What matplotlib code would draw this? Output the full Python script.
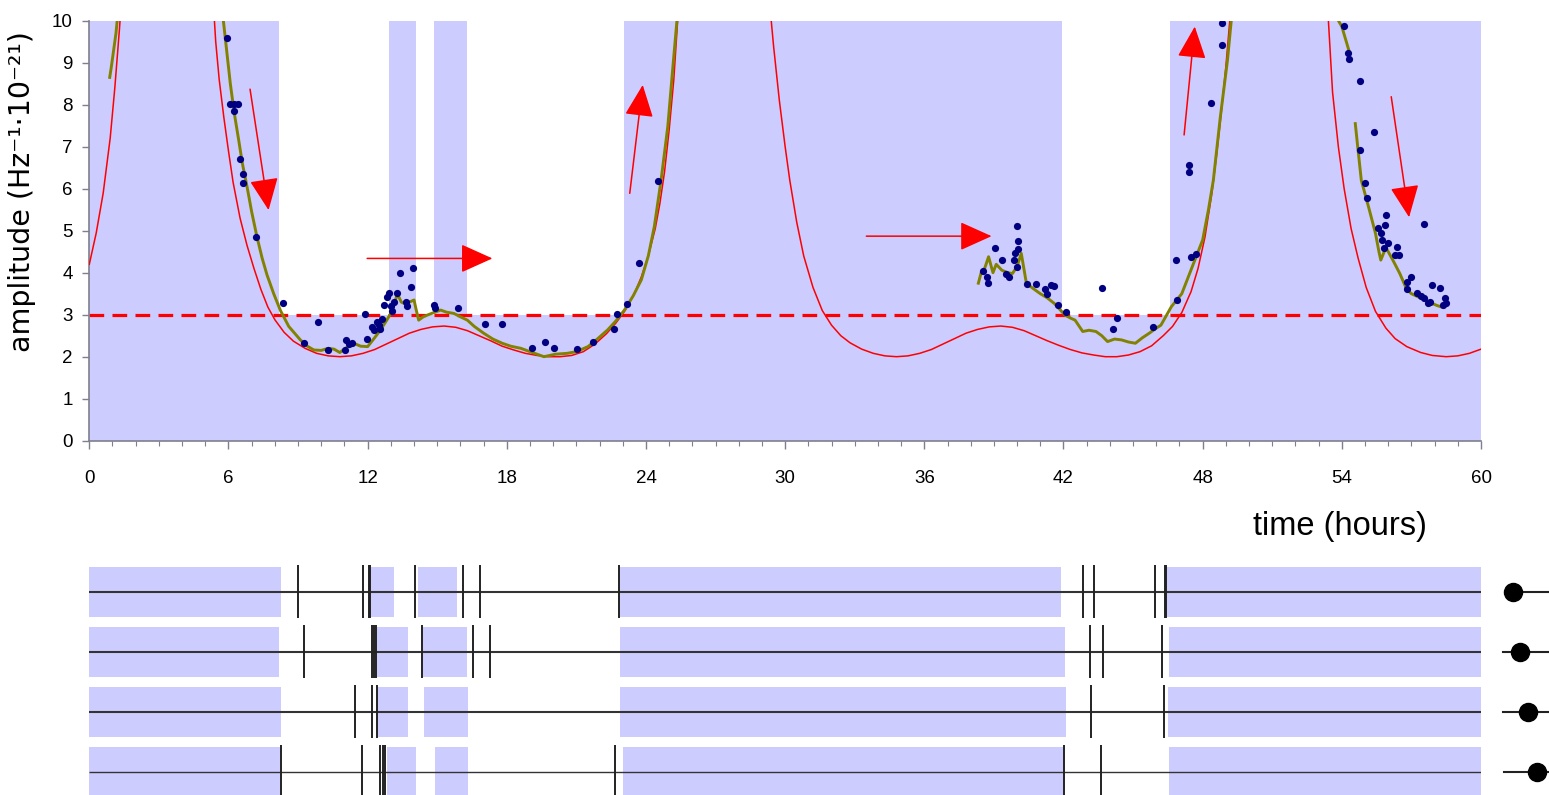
import numpy as np
import matplotlib
matplotlib.use("Agg")
import matplotlib.pyplot as plt
from matplotlib.ticker import MultipleLocator

plt.rcParams['font.family'] = ['Liberation Sans', 'DejaVu Sans']

# ---------------- data ----------------
# shaded observation windows in the top panel (hours)
shade_start = [0.0, 12.9, 14.86, 23.04, 46.6]
shade_end = [8.2, 14.07, 16.3, 41.95, 60.0]
threshold = 3.0

# model amplitude curve (red), separate branches
red1_t = [0.0, 0.3, 0.6, 0.9, 1.1, 1.3, 1.4]
red1_a = [4.2, 4.95, 5.9, 7.2, 8.4, 9.8, 10.6]
red2_t = [5.35, 5.45, 5.6, 5.8, 6.0, 6.2, 6.5, 6.8, 7.1, 7.4, 7.7, 8.0, 8.4, 8.8, 9.3, 9.8,
          10.3, 10.8, 11.3, 11.8, 12.3, 12.8, 13.3, 13.8, 14.3, 14.8, 15.3, 15.8, 16.3, 16.8,
          17.3, 17.8, 18.3, 18.8, 19.3, 19.8, 20.3, 20.8, 21.3, 21.8, 22.3, 22.7, 23.1, 23.5,
          23.8, 24.1, 24.4, 24.6, 24.8, 25.0, 25.2, 25.4]
red2_a = [10.4, 9.5, 8.6, 7.7, 6.9, 6.15, 5.3, 4.65, 4.1, 3.6, 3.18, 2.88, 2.58, 2.37, 2.2, 2.08,
          2.02, 2.0, 2.02, 2.08, 2.17, 2.3, 2.43, 2.56, 2.65, 2.71, 2.73, 2.7, 2.62, 2.5,
          2.38, 2.25, 2.16, 2.08, 2.03, 2.0, 2.0, 2.03, 2.12, 2.3, 2.55, 2.8, 3.1, 3.5,
          3.9, 4.4, 5.05, 5.65, 6.4, 7.4, 8.6, 10.3]
red3_t = [29.35, 29.5, 29.75, 30.0, 30.2, 30.5, 30.8, 31.2, 31.6, 32.0, 32.4, 32.8, 33.3, 33.8,
          34.3, 34.8, 35.3, 35.8, 36.3, 36.8, 37.3, 37.8, 38.3, 38.8, 39.3, 39.8, 40.3, 40.8,
          41.3, 41.8, 42.3, 42.8, 43.3, 43.8, 44.3, 44.8, 45.3, 45.8, 46.3, 46.7, 47.1, 47.5,
          47.8, 48.1, 48.4, 48.6, 48.8, 49.0, 49.2]
red3_a = [10.3, 9.4, 8.1, 7.0, 6.2, 5.2, 4.4, 3.65, 3.1, 2.75, 2.5, 2.33, 2.18, 2.08,
          2.02, 2.0, 2.02, 2.08, 2.17, 2.3, 2.43, 2.56, 2.65, 2.71, 2.73, 2.7, 2.62, 2.5,
          2.38, 2.27, 2.17, 2.09, 2.04, 2.0, 2.0, 2.04, 2.12, 2.26, 2.5, 2.72, 3.05, 3.55,
          4.1, 4.85, 5.9, 6.8, 7.8, 8.9, 10.2]
red4_t = [53.4, 53.6, 53.85, 54.1, 54.4, 54.7, 55.05, 55.45, 55.9, 56.3, 56.8, 57.4, 57.9,
          58.5, 59.0, 59.5, 60.0]
red4_a = [10.2, 8.3, 7.0, 6.0, 5.05, 4.35, 3.65, 3.08, 2.68, 2.43, 2.24, 2.1, 2.03,
          2.0, 2.02, 2.08, 2.18]

# smoothed measured amplitude (olive)
grn1_t = [0.88, 0.95, 1.05, 1.15, 1.22]
grn1_a = [8.65, 8.9, 9.3, 9.7, 10.1]
grn2_t = [5.76, 5.9, 6.08, 6.25, 6.44, 6.6, 6.8, 7.0, 7.23, 7.45, 7.66, 7.95, 8.24, 8.6, 9.1,
          9.4, 9.68, 10.0, 10.3, 10.55, 10.8, 11.1, 11.4, 11.7, 12.0, 12.3, 12.56, 12.8, 13.0,
          13.15, 13.28, 13.45, 13.57, 13.8, 14.0, 14.1, 14.2, 14.4, 14.57, 14.85, 15.15, 15.4,
          15.72, 16.0, 16.3, 16.6, 17.0, 17.4, 17.8, 18.17, 18.6, 19.1, 19.6, 20.1, 20.6, 21.0,
          21.5, 21.9, 22.35, 22.7, 23.07, 23.45, 23.8, 24.1, 24.36, 24.65, 24.94, 25.16, 25.35]
grn2_a = [10.1, 9.4, 8.5, 7.8, 7.16, 6.6, 6.05, 5.45, 4.85, 4.35, 3.95, 3.5, 3.1, 2.72, 2.4,
          2.25, 2.16, 2.15, 2.2, 2.18, 2.1, 2.22, 2.32, 2.25, 2.24, 2.45, 2.64, 2.85, 3.03,
          3.25, 3.5, 3.3, 3.27, 3.3, 3.35, 3.1, 2.87, 2.95, 2.99, 3.05, 3.11, 3.06,
          3.03, 2.95, 2.87, 2.72, 2.56, 2.42, 2.32, 2.25, 2.2, 2.1, 2.0, 2.06, 2.08, 2.12,
          2.24, 2.42, 2.64, 2.85, 3.11, 3.45, 3.83, 4.4, 5.1, 6.2, 7.48, 8.9, 10.1]
grn3_t = [38.33, 38.45, 38.6, 38.77, 38.96, 39.1, 39.34, 39.6, 39.8, 40.0, 40.18, 40.4, 40.7,
          41.0, 41.3, 41.6, 41.85, 42.07, 42.3, 42.5, 42.83, 43.1, 43.4, 43.65, 43.9, 44.2,
          44.5, 44.8, 45.1, 45.4, 45.7, 46.0, 46.2, 46.65, 47.1, 47.55, 48.0, 48.25, 48.46,
          48.76, 49.07, 49.25]
grn3_a = [3.75, 4.0, 4.1, 4.38, 4.0, 4.2, 4.06, 4.0, 3.98, 4.15, 4.46, 3.75, 3.62,
          3.5, 3.4, 3.27, 3.12, 2.99, 2.92, 2.87, 2.6, 2.63, 2.6, 2.5, 2.36, 2.42,
          2.4, 2.35, 2.32, 2.45, 2.56, 2.68, 2.75, 3.19, 3.5, 4.14, 4.78, 5.5, 6.2,
          7.7, 9.06, 10.1]
grn4_t = [53.75, 54.0, 54.3]
grn4_a = [10.1, 9.86, 9.3]
grn5_t = [54.58, 54.7, 54.84, 55.15, 55.45, 55.6, 55.68, 55.9, 56.05, 56.2, 56.5, 56.8, 57.0,
          57.27, 57.6, 57.88, 58.1, 58.26]
grn5_a = [7.55, 6.92, 6.2, 5.57, 4.94, 4.5, 4.3, 4.6, 4.45, 4.3, 3.98, 3.6, 3.5,
          3.43, 3.35, 3.27, 3.22, 3.19]

# individual measurements (navy dots)
dot_t = [5.93, 6.08, 6.22, 6.4, 6.22, 6.48, 6.62, 6.62, 7.2, 8.35, 9.27, 9.86, 10.3, 11.03,
         11.05, 11.2, 11.33, 11.9, 11.98, 12.2, 12.26, 12.4, 12.48, 12.55, 12.63, 12.7, 12.84,
         12.92, 13.0, 13.07, 13.14, 13.28, 13.4, 13.64, 13.71, 13.85, 13.95, 14.86, 14.9, 15.9,
         17.06, 17.78, 19.1, 19.65, 20.04, 21.02, 21.72, 22.64, 22.75, 23.18, 23.72, 24.5,
         38.55, 38.7, 38.75, 39.05, 39.34, 39.5, 39.64, 39.87, 39.9, 40.0, 40.0, 40.05, 40.05,
         40.43, 40.8, 41.2, 41.47, 41.6, 41.3, 41.77, 42.12, 43.67, 44.12, 44.3, 45.87, 46.9,
         46.86, 47.4, 47.4, 47.5, 47.73, 48.35, 48.85, 48.85,
         54.08, 54.28, 54.3, 54.8, 55.4, 54.8, 55.0, 55.07, 55.57, 55.7, 55.9, 55.88, 55.75,
         55.8, 56.0, 56.36, 56.3, 56.45, 57.53, 56.97, 56.83, 56.83, 57.23, 57.4, 57.55, 57.9,
         58.25, 57.8, 57.73, 58.44, 58.5, 58.37]
dot_a = [9.58, 8.02, 8.02, 8.02, 7.84, 6.7, 6.35, 6.13, 4.86, 3.29, 2.33, 2.83, 2.17, 2.17,
         2.4, 2.3, 2.33, 3.02, 2.43, 2.71, 2.63, 2.83, 2.75, 2.67, 2.89, 3.23, 3.43,
         3.52, 3.2, 3.08, 3.31, 3.52, 4.0, 3.31, 3.2, 3.67, 4.1, 3.23, 3.15, 3.15,
         2.79, 2.78, 2.2, 2.36, 2.2, 2.18, 2.36, 2.65, 3.02, 3.25, 4.24, 6.18,
         4.05, 3.9, 3.75, 4.58, 4.3, 3.98, 3.9, 4.3, 4.46, 4.14, 5.11, 4.75, 4.56,
         3.72, 3.72, 3.6, 3.71, 3.68, 3.5, 3.23, 3.07, 3.63, 2.65, 2.91, 2.71, 3.35,
         4.3, 6.56, 6.4, 4.38, 4.45, 8.03, 9.95, 9.42,
         9.87, 9.22, 9.08, 8.56, 7.36, 6.92, 6.13, 5.77, 5.06, 4.94, 5.37, 5.13, 4.78,
         4.58, 4.7, 4.62, 4.42, 4.42, 5.16, 3.9, 3.79, 3.6, 3.52, 3.45, 3.4, 3.71,
         3.63, 3.31, 3.27, 3.39, 3.27, 3.23]

# annotation arrows (start -> end, in data units)
arr_t0 = [6.93, 11.98, 23.3, 33.5, 47.2, 56.13]
arr_a0 = [8.37, 4.34, 5.89, 4.87, 7.28, 8.19]
arr_t1 = [7.73, 17.38, 23.86, 38.9, 47.66, 56.9]
arr_a1 = [5.49, 4.34, 8.47, 4.87, 9.86, 5.32]

# bottom panel: four detector timelines
row_band_start = [[0.0, 12.1, 14.18, 22.87, 46.38],
                  [0.0, 12.39, 14.4, 22.87, 46.53],
                  [0.0, 12.46, 14.43, 22.9, 46.5],
                  [0.0, 12.82, 14.9, 23.02, 46.53]]
row_band_end = [[8.25, 13.15, 15.84, 41.9, 60.0],
                [8.19, 13.72, 16.27, 42.06, 60.0],
                [8.25, 13.75, 16.34, 42.1, 60.0],
                [8.22, 14.08, 16.34, 41.98, 60.0]]
row_events = [[9.0, 11.78, 12.04, 12.1, 14.04, 16.12, 16.84, 22.84, 42.83, 43.32, 45.94, 46.36, 46.41],
              [9.27, 12.2, 12.28, 12.36, 14.35, 16.53, 17.27, 43.13, 43.7, 46.26],
              [11.45, 12.17, 12.39, 43.17, 46.35],
              [8.25, 11.77, 12.55, 12.65, 12.75, 22.66, 42.01, 43.6]]
# orientation indicators at the right of each row (hours-equivalent offsets)
ind_dot = [61.38, 61.70, 62.03, 62.42]
ind_left = [61.38, 60.95, 60.95, 61.0]
ind_right = 63.1

x_ticks = list(range(0, 61, 6))
y_ticks = list(range(0, 11))

# ---------------- figure ----------------
W, H = 1549, 795
fig = plt.figure(figsize=(W / 100, H / 100), dpi=100)

L = 89.3 / W
Wd = (1481.0 - 89.3) / W
ax = fig.add_axes([L, 1 - 440.7 / H, Wd, 420.0 / H])

shade = '#ccccff'
for s, e in zip(shade_start, shade_end):
    ax.axvspan(s, e, color=shade, lw=0, zorder=0)
ax.axhspan(0, threshold, color=shade, lw=0, zorder=0)

ax.axhline(threshold, color='#ff0000', lw=2.3, dashes=(4.6, 2.6), zorder=2)

for tt, aa in [(red1_t, red1_a), (red2_t, red2_a), (red3_t, red3_a), (red4_t, red4_a)]:
    ax.plot(tt, aa, color='#ff0000', lw=1.1, zorder=3, solid_joinstyle='round')
for tt, aa in [(grn1_t, grn1_a), (grn2_t, grn2_a), (grn3_t, grn3_a), (grn4_t, grn4_a), (grn5_t, grn5_a)]:
    ax.plot(tt, aa, color='#828200', lw=2.1, zorder=4, solid_joinstyle='round')

ax.plot(dot_t, dot_a, 'o', color='#000080', ms=5.2, mec='none', zorder=5)

for t0, a0, t1, a1 in zip(arr_t0, arr_a0, arr_t1, arr_a1):
    ax.annotate('', xy=(t1, a1), xytext=(t0, a0),
                arrowprops=dict(arrowstyle='-|>,head_length=1.0,head_width=0.45',
                                color='#ff0000', lw=1.1, mutation_scale=20,
                                shrinkA=0, shrinkB=0), zorder=6)

ax.set_xlim(0, 60)
ax.set_ylim(0, 10)
ax.set_xticks(x_ticks)
ax.set_yticks(y_ticks)
ax.xaxis.set_minor_locator(MultipleLocator(1))
for side in ('top', 'right'):
    ax.spines[side].set_visible(False)
for side in ('left', 'bottom'):
    ax.spines[side].set_color('#7f7f8f')
    ax.spines[side].set_linewidth(1.2)
ax.tick_params(axis='x', which='major', length=6, width=1, color='#7f7f8f',
               labelsize=13.5, pad=15)
ax.tick_params(axis='x', which='minor', length=3.5, width=0.8, color='#7f7f8f')
ax.tick_params(axis='y', which='major', length=5, width=1, color='#7f7f8f',
               labelsize=13.5, pad=7)
ax.set_ylabel('amplitude (Hz⁻¹·10⁻²¹)', fontsize=20.5, family=['DejaVu Sans'])
ax.yaxis.set_label_coords(-0.0385, 0.594)
ax.set_xlabel('time (hours)', fontsize=23.5)
ax.xaxis.set_label_coords(0.8987, -0.168)

# ---------------- bottom timelines ----------------
top_px = 561.7
ax2 = fig.add_axes([L, 0, Wd, (H - top_px) / H])
n_rows = len(row_events)
ax2.set_xlim(0, 60)
ax2.set_ylim((H - top_px) / 60.0 - 0.5, -0.5)
ax2.axis('off')
for i in range(n_rows):
    spans = [(s, e - s) for s, e in zip(row_band_start[i], row_band_end[i])]
    ax2.broken_barh(spans, (i - 0.42, 0.84), facecolors=shade, lw=0, zorder=0)
    ax2.hlines(i, 0, 60, color='#333333', lw=1.5 if i < 3 else 1.0, zorder=2)
    ax2.vlines(row_events[i], i - 0.44, i + 0.44, color='#222222', lw=1.4, zorder=3)
    ax2.plot([ind_left[i], ind_right], [i, i], color='#222222', lw=1.5, clip_on=False)
    ax2.plot([ind_dot[i]], [i], 'o', color='black', ms=13, clip_on=False)

fig.savefig('out.png', dpi=100)
